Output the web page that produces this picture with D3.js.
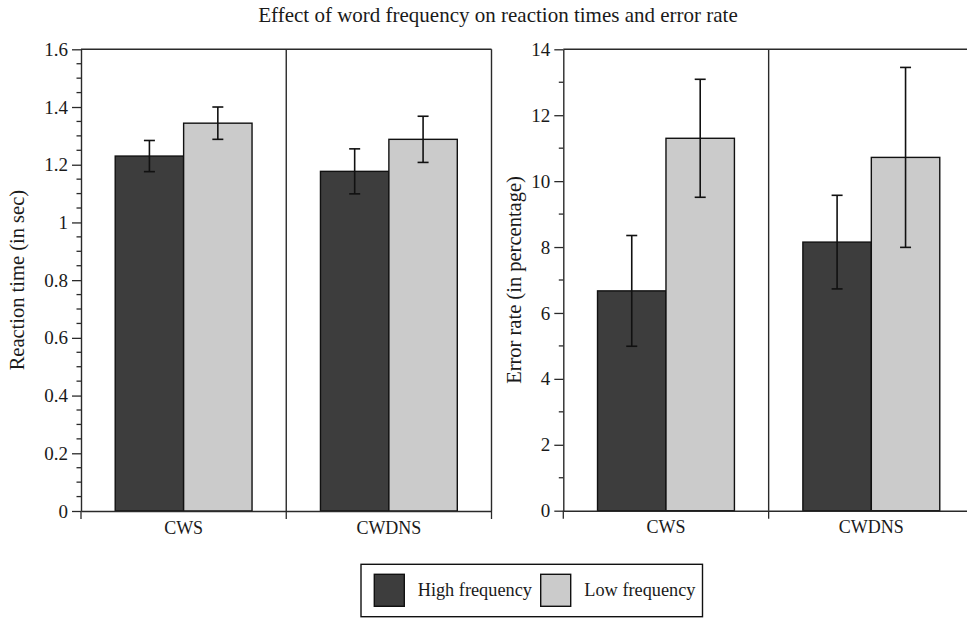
<!DOCTYPE html>
<html>
<head>
<meta charset="utf-8">
<script src="https://cdn.jsdelivr.net/npm/d3@7"></script>
<style>
  body { margin: 0; background: #fff; overflow: hidden; }
  svg { display: block; font-family: "Liberation Serif", "Times New Roman", serif; }
</style>
</head>
<body>
<svg id="chart" width="968" height="618"></svg>
<script>
const width = 968, height = 618;
const svg = d3.select("#chart");
const serif = "'Liberation Serif', 'Times New Roman', serif";

// Data
const conditions = ["CWS", "CWDNS"];
const series = ["High frequency", "Low frequency"];
const colors = ["#3d3d3d", "#cbcbcb"];

const rtMean = [[1.230, 1.344], [1.177, 1.288]];
const rtErr = [[0.054, 0.056], [0.078, 0.080]];
const errMean = [[6.67, 11.30], [8.15, 10.72]];
const errErr = [[1.68, 1.79], [1.42, 2.73]];

const rtTicks = [0, 0.2, 0.4, 0.6, 0.8, 1, 1.2, 1.4, 1.6];
const errTicks = [0, 2, 4, 6, 8, 10, 12, 14];

const lineColor = "#2a2a2a";
const textColor = "#1a1a1a";

// the source image is cropped at its right edge
svg.append("defs").append("clipPath").attr("id", "page")
  .append("rect").attr("x", 0).attr("y", 0).attr("width", width - 1).attr("height", height);

// Title
svg.append("text")
  .attr("x", 498).attr("y", 22)
  .attr("text-anchor", "middle")
  .attr("font-family", serif)
  .attr("font-size", 21)
  .attr("fill", textColor)
  .text("Effect of word frequency on reaction times and error rate");

function panel({ left, right, top, bottom, max, ticks, minorStep, means, errs, label, labelX }) {
  const g = svg.append("g").attr("clip-path", "url(#page)");
  const x = d3.scaleBand().domain(conditions).range([left, right]);
  const xi = d3.scaleBand().domain(series).range([0, x.bandwidth()]).paddingOuter(0.5).paddingInner(0);
  const y = d3.scaleLinear().domain([0, max]).range([bottom, top]);
  const edges = [left, x(conditions[1]), right];

  // bars
  conditions.forEach((c, ci) => {
    series.forEach((s, si) => {
      const v = means[ci][si];
      g.append("rect")
        .attr("x", x(c) + xi(s))
        .attr("y", y(v))
        .attr("width", xi.bandwidth())
        .attr("height", y(0) - y(v))
        .attr("fill", colors[si])
        .attr("stroke", "#111")
        .attr("stroke-width", 1.4);
    });
  });

  // error bars
  conditions.forEach((c, ci) => {
    series.forEach((s, si) => {
      const cx = x(c) + xi(s) + xi.bandwidth() / 2;
      const v = means[ci][si], e = errs[ci][si];
      const eg = g.append("g").attr("stroke", "#111").attr("stroke-width", 1.6);
      eg.append("line").attr("x1", cx).attr("x2", cx).attr("y1", y(v + e)).attr("y2", y(v - e));
      eg.append("line").attr("x1", cx - 5.5).attr("x2", cx + 5.5).attr("y1", y(v + e)).attr("y2", y(v + e));
      eg.append("line").attr("x1", cx - 5.5).attr("x2", cx + 5.5).attr("y1", y(v - e)).attr("y2", y(v - e));
    });
  });

  // frame: top line, divider and right edge
  const frame = g.append("g").attr("stroke", lineColor).attr("stroke-width", 1.4).attr("fill", "none");
  frame.append("line").attr("x1", left).attr("x2", right).attr("y1", top).attr("y2", top);
  frame.selectAll(".edge").data(edges.slice(1)).join("line")
    .attr("class", "edge")
    .attr("x1", d => d).attr("x2", d => d).attr("y1", top).attr("y2", bottom);

  // y axis, major ticks
  const yAxis = g.append("g")
    .attr("transform", `translate(${left},0)`)
    .call(d3.axisLeft(y).tickValues(ticks).tickFormat(d3.format("")).tickSize(9).tickSizeOuter(0).tickPadding(4));
  yAxis.select(".domain").attr("stroke", lineColor).attr("stroke-width", 1.4);
  yAxis.selectAll(".tick line").attr("stroke", lineColor).attr("stroke-width", 1.3);
  yAxis.selectAll(".tick text")
    .attr("font-family", serif)
    .attr("font-size", 19).attr("fill", textColor);

  // minor ticks
  const minor = d3.range(0, max + 1e-9, minorStep).filter(v => !ticks.some(t => Math.abs(t - v) < 1e-9));
  g.append("g").selectAll("line").data(minor).join("line")
    .attr("x1", left - 4.5).attr("x2", left)
    .attr("y1", d => y(d)).attr("y2", d => y(d))
    .attr("stroke", lineColor).attr("stroke-width", 1.3);

  // x axis
  const xAxis = g.append("g")
    .attr("transform", `translate(0,${bottom})`)
    .call(d3.axisBottom(x).tickSize(0).tickSizeOuter(0).tickPadding(10));
  xAxis.select(".domain").attr("stroke", lineColor).attr("stroke-width", 1.4);
  xAxis.selectAll(".tick text")
    .attr("font-family", serif)
    .attr("font-size", 18).attr("fill", textColor);
  // boundary ticks below the axis
  g.append("g").selectAll("line").data(edges).join("line")
    .attr("x1", d => d).attr("x2", d => d)
    .attr("y1", bottom).attr("y2", bottom + 8)
    .attr("stroke", lineColor).attr("stroke-width", 1.3);

  // y label
  g.append("text")
    .attr("transform", `translate(${labelX},${(top + bottom) / 2}) rotate(-90)`)
    .attr("text-anchor", "middle")
    .attr("font-family", serif)
    .attr("font-size", 20.5)
    .attr("fill", textColor)
    .text(label);
}

panel({
  left: 81, right: 491.5, top: 49.3, bottom: 511, max: 1.6,
  ticks: rtTicks, minorStep: 0.05, means: rtMean, errs: rtErr,
  label: "Reaction time (in sec)", labelX: 24
});

panel({
  left: 563.3, right: 974, top: 49.3, bottom: 510.7, max: 14,
  ticks: errTicks, minorStep: 1, means: errMean, errs: errErr,
  label: "Error rate (in percentage)", labelX: 521
});

// Legend
const legend = svg.append("g");
legend.append("rect")
  .attr("x", 361).attr("y", 564.3).attr("width", 341.5).attr("height", 52.4)
  .attr("fill", "#fff").attr("stroke", "#111").attr("stroke-width", 1.4);
const legendPos = [{ sx: 374.3, tx: 417.7 }, { sx: 540.7, tx: 584.3 }];
series.forEach((s, i) => {
  legend.append("rect")
    .attr("x", legendPos[i].sx).attr("y", 574.3).attr("width", 30).attr("height", 32)
    .attr("fill", colors[i]).attr("stroke", "#111").attr("stroke-width", 1.4);
  legend.append("text")
    .attr("x", legendPos[i].tx).attr("y", 596)
    .attr("font-family", serif)
    .attr("font-size", 18.3).attr("fill", textColor)
    .text(s);
});
</script>
</body>
</html>
